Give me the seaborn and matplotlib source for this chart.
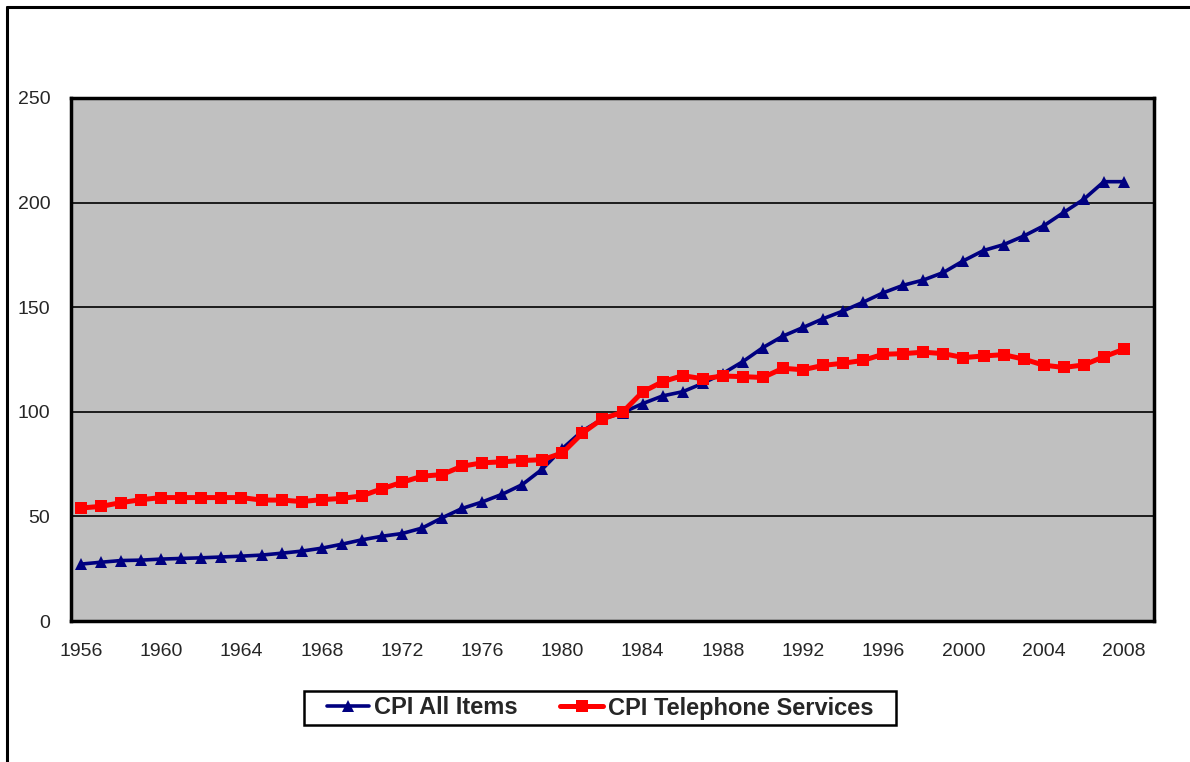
import pandas as pd
import matplotlib.pyplot as plt
import seaborn as sns
from matplotlib.lines import Line2D
from matplotlib.patches import Rectangle

# Data
years = list(range(1956, 2009))
cpi_all = [27.2, 28.1, 28.9, 29.1, 29.6, 29.9, 30.2, 30.6, 31.0, 31.5,
           32.4, 33.4, 34.8, 36.7, 38.8, 40.5, 41.8, 44.4, 49.3, 53.8,
           56.9, 60.6, 65.2, 72.6, 82.4, 90.9, 96.5, 99.6, 103.9, 107.6,
           109.6, 113.6, 118.3, 124.0, 130.7, 136.2, 140.3, 144.5, 148.2, 152.4,
           156.9, 160.5, 163.0, 166.6, 172.2, 177.1, 179.9, 184.0, 188.9, 195.3,
           201.6, 210.0, 210.0]
cpi_phone = [54.0, 54.8, 56.6, 58.0, 59.0, 59.0, 59.0, 59.0, 59.0, 57.8,
             57.8, 57.1, 58.0, 58.6, 59.8, 63.2, 66.3, 69.2, 70.0, 74.0,
             75.6, 76.1, 76.7, 77.1, 80.3, 89.8, 96.7, 99.8, 109.5, 114.4,
             117.3, 115.8, 117.1, 116.8, 116.4, 120.8, 120.1, 122.2, 123.2, 124.6,
             127.5, 127.8, 128.5, 127.8, 125.9, 126.7, 127.3, 125.2, 122.3, 121.2,
             122.4, 126.3, 129.9]
series_names = ['CPI All Items', 'CPI Telephone Services']

df = pd.DataFrame({'year': years, 'all': cpi_all, 'phone': cpi_phone})

sns.set_style('white')
plt.rcParams['font.family'] = ['Liberation Sans', 'DejaVu Sans']

W, H = 1190, 762
fig = plt.figure(figsize=(11.9, 7.62), dpi=100)
ax = fig.add_axes([71 / W, 1 - 621 / H, (1154 - 71) / W, (621 - 98) / H])
ax.set_facecolor('#C0C0C0')

sns.lineplot(data=df, x='year', y='all', ax=ax, color='#000080', linewidth=2.6,
             marker='^', markersize=8, markeredgewidth=0, label=series_names[0])
sns.lineplot(data=df, x='year', y='phone', ax=ax, color='#FF0000', linewidth=3.6,
             marker='s', markersize=8, markeredgewidth=0, label=series_names[1])

ax.set_xlim(1955.5, 2009.5)
ax.set_ylim(0, 250)
ax.set_xticks(range(1956, 2009, 4))
ax.set_yticks(range(0, 251, 50))
ax.yaxis.grid(True, color='black', linewidth=1.2)
ax.set_axisbelow(True)
ax.set_xlabel('')
ax.set_ylabel('')
ax.tick_params(axis='x', labelsize=14, length=0, pad=16)
ax.tick_params(axis='y', labelsize=14, length=0, pad=15)
for s in ax.spines.values():
    s.set_color('black')
    s.set_linewidth(2.5)

ax.get_legend().remove()
handles, labels = ax.get_legend_handles_labels()
leg = fig.legend(handles, labels, loc='center', bbox_to_anchor=(600 / W, 1 - 708 / H),
                 ncol=2, frameon=False,
                 prop={'weight': 'bold', 'size': 17}, handlelength=1.8,
                 handletextpad=0.2, columnspacing=1.8, borderpad=0.25)
# legend box
fig.add_artist(Rectangle((304 / W, 1 - 725 / H), (896 - 304) / W, (725 - 691) / H,
                         transform=fig.transFigure, fill=False,
                         edgecolor='black', linewidth=1.8))

# outer chart frame (cut off at right and bottom)
fig.add_artist(Line2D([7 / W, 7 / W], [0, 1 - 7 / H], color='black', linewidth=2.2))
fig.add_artist(Line2D([7 / W, 1], [1 - 7 / H, 1 - 7 / H], color='black', linewidth=2.2))

fig.savefig('out.png', dpi=100)
